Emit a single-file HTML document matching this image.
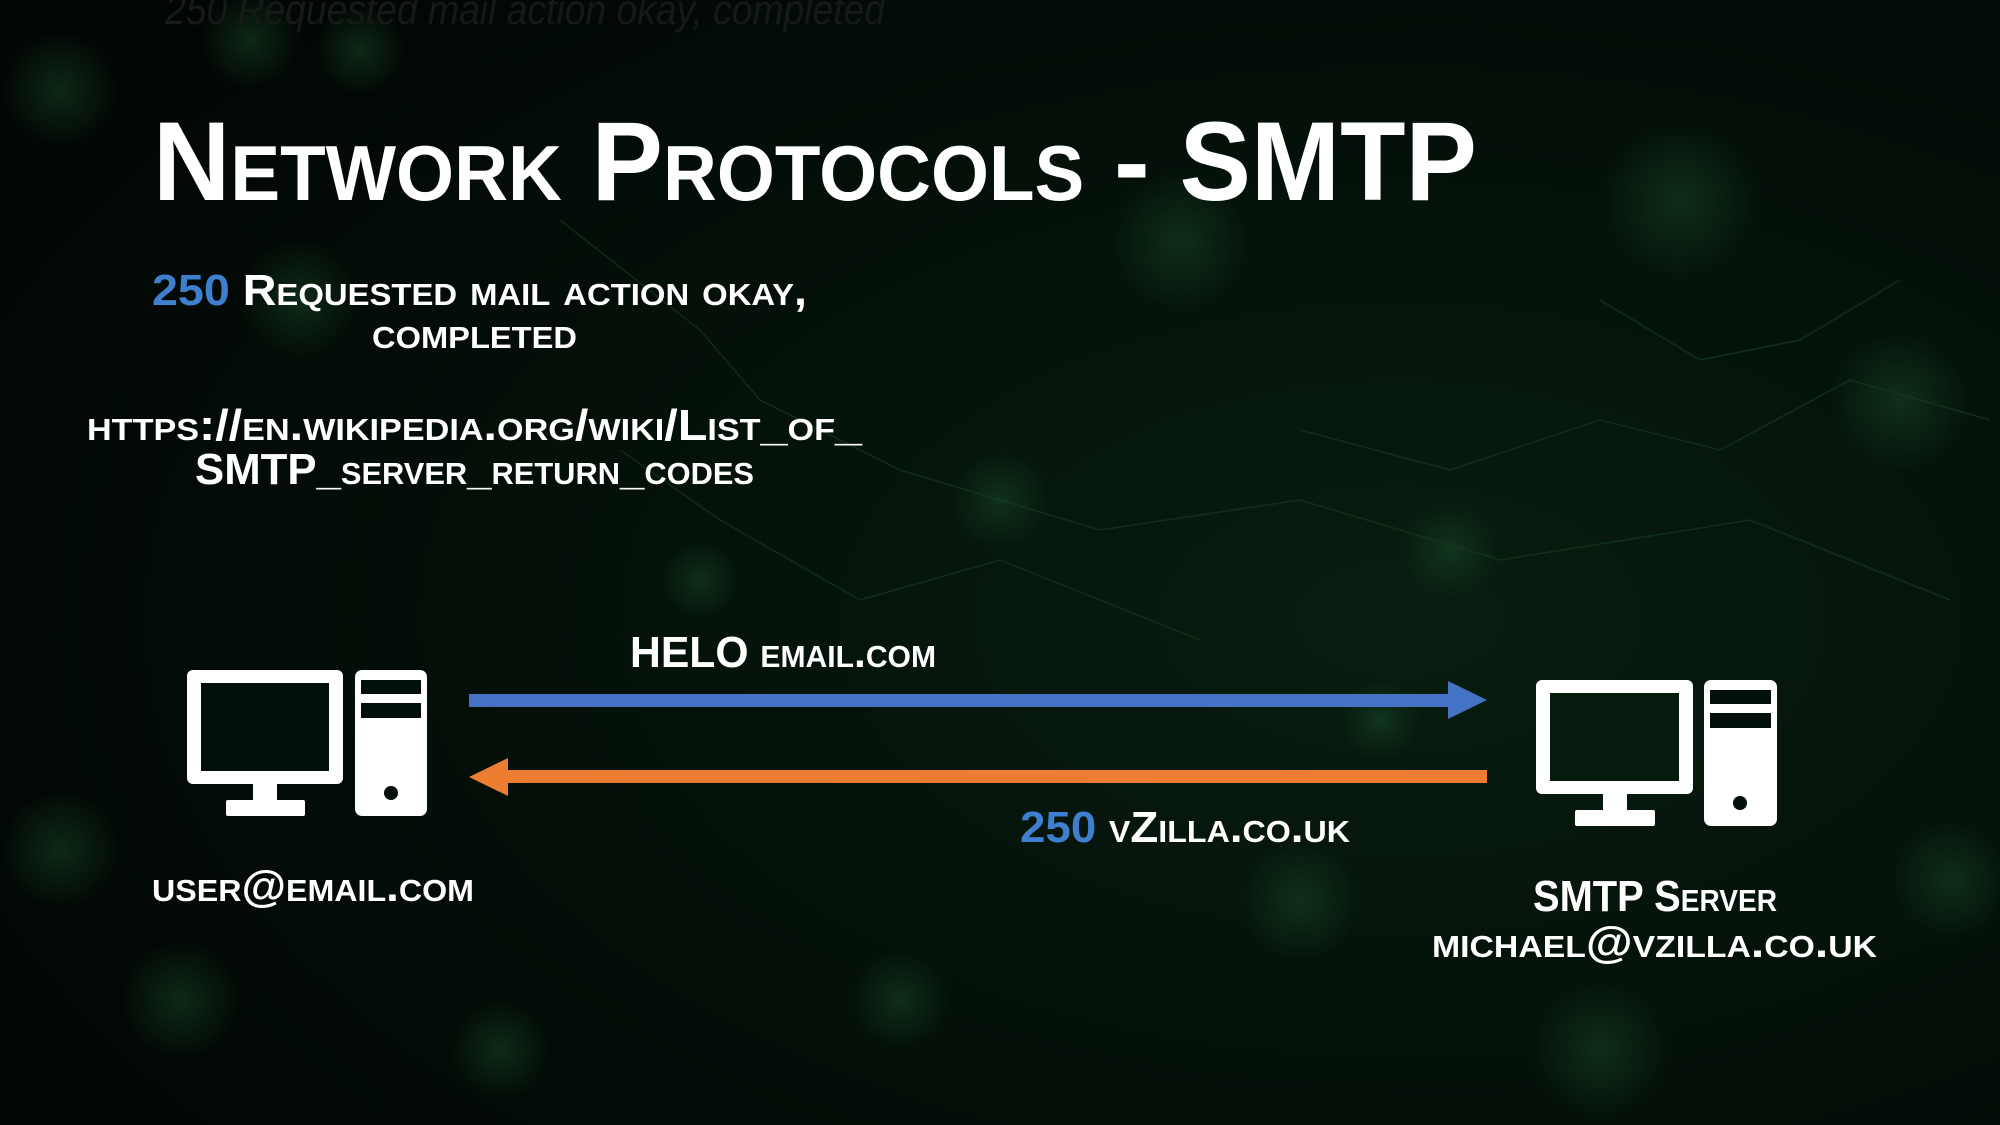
<!DOCTYPE html>
<html><head><meta charset="utf-8"><style>
html,body{margin:0;padding:0;background:#020805;width:2000px;height:1125px;overflow:hidden}
svg{display:block}
text{font-family:"Liberation Sans",sans-serif;font-weight:bold;fill:#fff;font-variant:small-caps}
</style></head><body>
<svg width="2000" height="1125" viewBox="0 0 2000 1125" xmlns="http://www.w3.org/2000/svg">
<defs>
<radialGradient id="bg" cx="0.7" cy="0.55" r="0.8">
<stop offset="0" stop-color="#081d10"/><stop offset="0.5" stop-color="#041109"/><stop offset="1" stop-color="#020604"/>
</radialGradient>
<radialGradient id="bk"><stop offset="0" stop-color="#1d5a30" stop-opacity="0.4"/><stop offset="1" stop-color="#1d5a30" stop-opacity="0"/></radialGradient>
</defs>
<rect width="2000" height="1125" fill="url(#bg)"/>
<g fill="url(#bk)">
<circle cx="60" cy="90" r="60"/><circle cx="250" cy="40" r="50"/><circle cx="360" cy="50" r="45"/>
<circle cx="1180" cy="240" r="70"/><circle cx="1680" cy="200" r="80"/><circle cx="1900" cy="400" r="70"/>
<circle cx="1380" cy="720" r="40"/><circle cx="60" cy="850" r="60"/><circle cx="180" cy="1000" r="60"/>
<circle cx="500" cy="1050" r="50"/><circle cx="900" cy="1000" r="50"/><circle cx="1300" cy="900" r="60"/>
<circle cx="1600" cy="1050" r="70"/><circle cx="1950" cy="880" r="60"/><circle cx="700" cy="580" r="40"/>
<circle cx="1000" cy="500" r="50"/><circle cx="1450" cy="550" r="50"/><circle cx="300" cy="300" r="60"/>
</g>
<g stroke="#163e22" stroke-width="1.5" fill="none" opacity="0.6">
<polyline points="560,220 700,330 760,400 900,470 1100,530 1300,500 1500,560 1750,520 1950,600"/>
<polyline points="1300,430 1450,470 1600,420 1720,450 1850,380 1990,420"/>
<polyline points="620,450 720,520 860,600 1000,560 1200,640"/>
<polyline points="1600,300 1700,360 1800,340 1900,280"/>
</g>
<text x="165" y="24" style="font-style:italic;font-weight:normal;font-variant:normal;fill:#161a17" font-size="42" textLength="720" lengthAdjust="spacingAndGlyphs">250 Requested mail action okay, completed</text>
<text x="153" y="200" font-size="112" textLength="1324" lengthAdjust="spacingAndGlyphs">Network Protocols - SMTP</text>
<text x="152" y="305" font-size="44" textLength="655" lengthAdjust="spacingAndGlyphs"><tspan style="fill:#3f7fd0;font-variant:normal">250</tspan> Requested mail action okay,</text>
<text x="372" y="348" font-size="44" textLength="205" lengthAdjust="spacingAndGlyphs">completed</text>
<text x="87" y="440" font-size="44" textLength="775" lengthAdjust="spacingAndGlyphs">https://en.wikipedia.org/wiki/List_of_</text>
<text x="195" y="484" font-size="44" textLength="559" lengthAdjust="spacingAndGlyphs">SMTP_server_return_codes</text>
<text x="630" y="667" font-size="44" textLength="306" lengthAdjust="spacingAndGlyphs">HELO email.com</text>
<text x="1020" y="842" font-size="44" textLength="330" lengthAdjust="spacingAndGlyphs"><tspan style="fill:#3f7fd0;font-variant:normal">250</tspan> vZilla.co.uk</text>
<text x="152" y="901" font-size="44" textLength="322" lengthAdjust="spacingAndGlyphs">user@email.com</text>
<text x="1533" y="911" font-size="44" textLength="244" lengthAdjust="spacingAndGlyphs">SMTP Server</text>
<text x="1432" y="957" font-size="44" textLength="445" lengthAdjust="spacingAndGlyphs">michael@vzilla.co.uk</text>
<rect x="469" y="694" width="981" height="13" fill="#4472c4"/>
<polygon points="1448,681 1487,700 1448,719" fill="#4472c4"/>
<rect x="506" y="770" width="981" height="13" fill="#ed7d31"/>
<polygon points="508,758 469,777 508,796" fill="#ed7d31"/>
<g fill="#fff">
<rect x="187" y="670" width="156" height="114" rx="6"/>
<rect x="253" y="782" width="24" height="20"/>
<rect x="226" y="800" width="79" height="16" rx="2"/>
<rect x="355" y="670" width="72" height="146" rx="7"/>
</g>
<rect x="201" y="683" width="128" height="88" fill="#03100a"/>
<rect x="361" y="680" width="60" height="14" fill="#03100a"/>
<rect x="361" y="703" width="60" height="15" fill="#03100a"/>
<circle cx="391" cy="793" r="7" fill="#03100a"/>
<g fill="#fff">
<rect x="1536" y="680" width="157" height="114" rx="6"/>
<rect x="1603" y="792" width="24" height="20"/>
<rect x="1575" y="810" width="80" height="16" rx="2"/>
<rect x="1704" y="680" width="73" height="146" rx="7"/>
</g>
<rect x="1550" y="693" width="129" height="88" fill="#061a0e"/>
<rect x="1710" y="690" width="61" height="14" fill="#03100a"/>
<rect x="1710" y="713" width="61" height="15" fill="#03100a"/>
<circle cx="1740" cy="803" r="7" fill="#03100a"/>
</svg>
</body></html>
